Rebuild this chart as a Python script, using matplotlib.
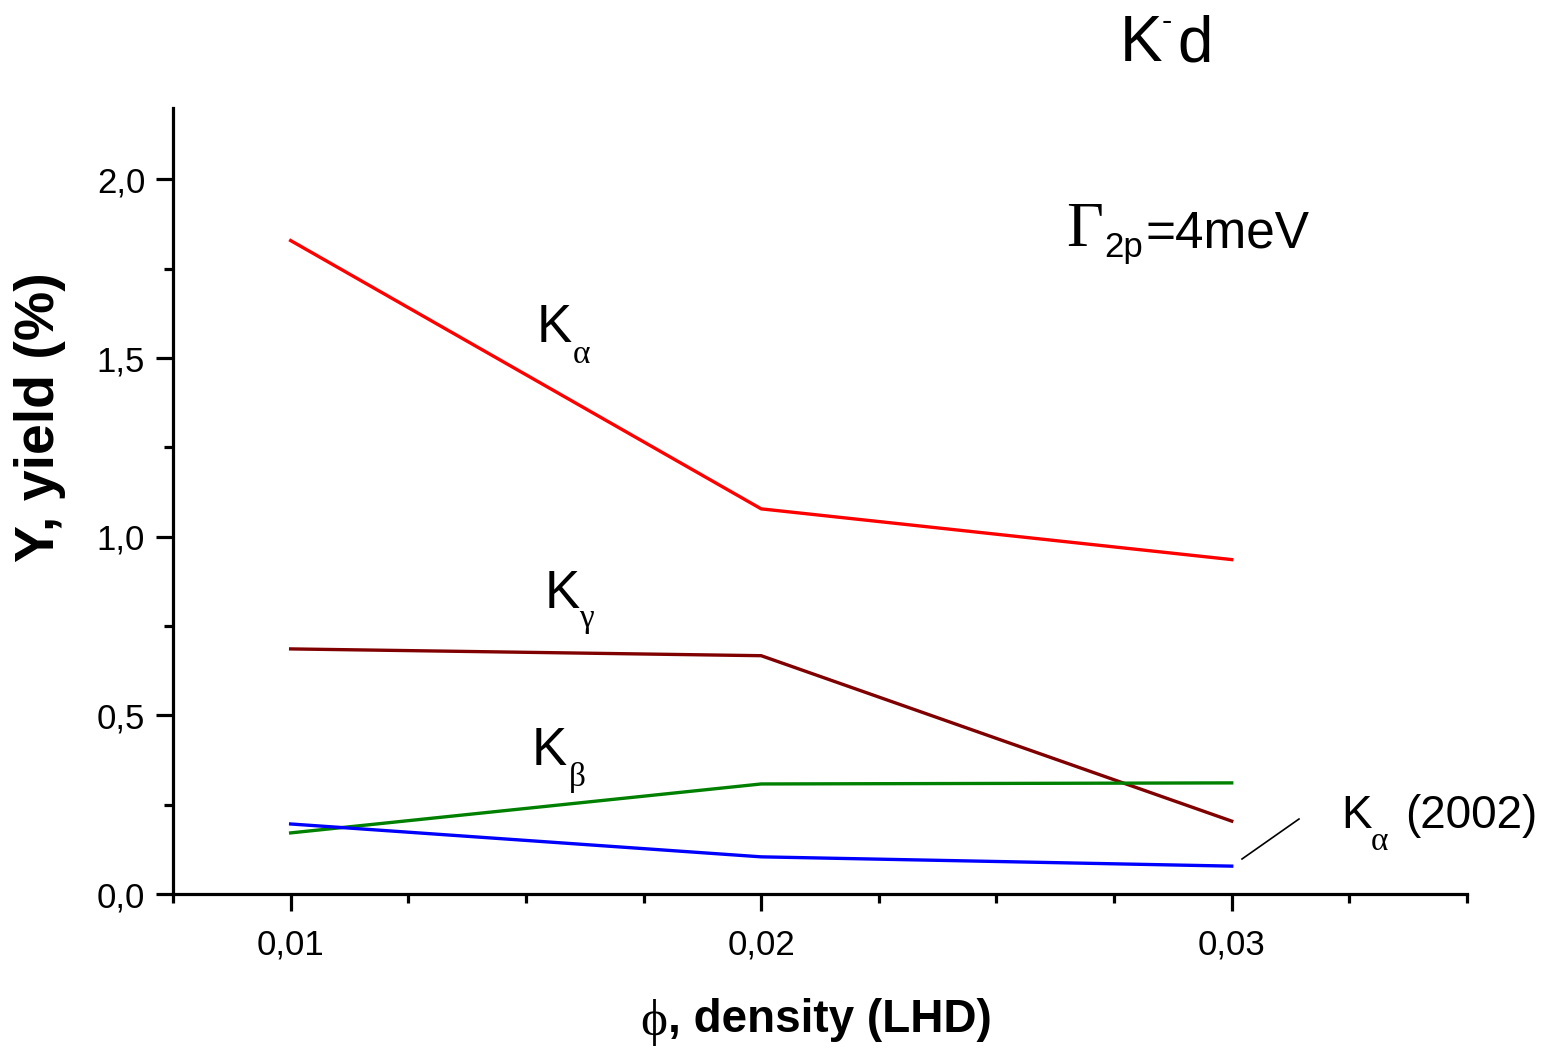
import numpy as np
import matplotlib
matplotlib.use("Agg")
import matplotlib.pyplot as plt
from matplotlib.ticker import MultipleLocator, FuncFormatter

plt.rcParams['font.family'] = ['Liberation Sans', 'DejaVu Sans']

# yields (%) vs density (LHD)
density = [0.01, 0.02, 0.03]
y_k_alpha = [1.829, 1.078, 0.936]
y_k_gamma = [0.686, 0.667, 0.204]
y_k_beta = [0.171, 0.308, 0.311]
y_k_alpha_2002 = [0.196, 0.104, 0.078]

W, H = 1551, 1049
fig = plt.figure(figsize=(W / 100, H / 100), dpi=100)
ax = fig.add_axes([173 / W, 1 - 894 / H, (1467 - 173) / W, (894 - 108) / H])

lw = 2.4
ax.plot(density, y_k_alpha, color='#ff0000', lw=lw)
ax.plot(density, y_k_gamma, color='#800000', lw=lw)
ax.plot(density, y_k_beta, color='#008000', lw=lw)
ax.plot(density, y_k_alpha_2002, color='#0000ff', lw=lw)

ax.set_xlim(0.0075, 0.035)
ax.set_ylim(0, 2.2)
ax.xaxis.set_major_locator(MultipleLocator(0.01))
ax.xaxis.set_minor_locator(MultipleLocator(0.0025))
ax.yaxis.set_major_locator(MultipleLocator(0.5))
ax.yaxis.set_minor_locator(MultipleLocator(0.25))
ax.xaxis.set_major_formatter(FuncFormatter(lambda v, p: f"{v:.2f}".replace('.', ',')))
ax.yaxis.set_major_formatter(FuncFormatter(lambda v, p: f"{v:.1f}".replace('.', ',')))

for s in ('top', 'right'):
    ax.spines[s].set_visible(False)
for s in ('left', 'bottom'):
    ax.spines[s].set_linewidth(2.3)
ax.tick_params(which='major', direction='out', length=12, width=2.3, labelsize=25, pad=8)
ax.tick_params(which='minor', direction='out', length=6.5, width=2.3)
ax.tick_params(axis='x', which='major', pad=13)


def ftext(px, py, s, size, **kw):
    kw.setdefault('va', 'baseline')
    kw.setdefault('ha', 'left')
    fig.text(px / W, 1 - py / H, s, fontsize=size, **kw)


serif = ['Liberation Serif', 'DejaVu Serif']

# axis titles
ftext(40, 417, 'Y, yield (%)', 40, fontweight='bold', rotation=90,
      va='center', ha='center')
ftext(640, 1035, 'ϕ', 37, family=serif)
ftext(668, 1032, ', density (LHD)', 33, fontweight='bold')

# curve labels
ftext(537, 342, 'K', 38)
ftext(573, 363, 'α', 24, family=serif)
ftext(545, 608, 'K', 38)
ftext(579, 627, 'γ', 24, family=serif)
ftext(532, 765, 'K', 38)
ftext(569, 786, 'β', 24, family=serif)
ftext(1341, 828, 'K', 33)
ftext(1371, 850, 'α', 24, family=serif)
ftext(1405, 828, '(2002)', 33)
fig.add_artist(plt.Line2D([1242 / W, 1299 / W], [1 - 859 / H, 1 - 819 / H],
                          color='black', lw=1.2))

# width and reaction
ftext(1066, 246, 'Γ', 46, family=serif)
ftext(1104, 257, '2p', 25)
ftext(1145, 247, '=4meV', 37)
ftext(1120, 61, 'K', 46)
ftext(1162, 30, '-', 22)
ftext(1177, 61, 'd', 46)

fig.savefig('out.png', dpi=100)
